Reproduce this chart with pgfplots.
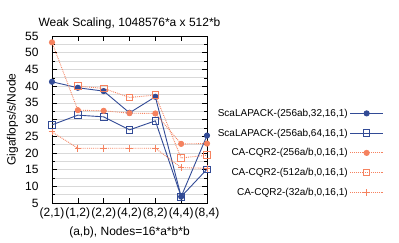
\documentclass[border=0pt]{standalone}
\usepackage{pgfplots}
\pgfplotsset{compat=1.18}
\usepackage{fontspec}
\setmainfont{Liberation Sans}
\definecolor{sblue}{RGB}{50,75,150}
\definecolor{sorange}{RGB}{245,130,95}
\begin{document}
\begin{tikzpicture}
\begin{axis}[
  scale only axis, width=155pt, height=167pt,
  xmin=0, xmax=6, ymin=5, ymax=55,
  xtick={0,...,6},
  xticklabels={(2,1),(1,2),(2,2),(4,2),(8,2),(4,4),(8,4)},
  ytick distance=5, minor y tick num=1,
  ymajorgrids, yminorgrids,
  major grid style={gray!30, line width=0.6pt},
  minor grid style={gray!30, line width=0.6pt},
  tick align=inside, major tick length=5pt, minor tick length=3pt,
  tick style={black, line width=0.5pt},
  axis line style={line width=0.8pt},
  tick label style={font=\fontsize{12}{14}\selectfont},
  yticklabel shift=10pt,
  xticklabel shift=1pt,
  /pgf/number format/assume math mode=true,
  title={Weak Scaling, 1048576*a x 512*b},
  title style={font=\fontsize{12}{14}\selectfont, yshift=-3pt},
  xlabel={(a,b), Nodes=16*a*b*b},
  ylabel={Gigaflops/s/Node},
  label style={font=\fontsize{12}{14}\selectfont},
  ylabel style={at={(axis description cs:-0.255,0.5)}, anchor=center},
  xlabel style={yshift=-1pt},
  legend plot pos=right,
  legend cell align=right,
  legend style={at={(2.16,0.30)}, anchor=east, draw=none, fill=none,
    font=\fontsize{10}{12}\selectfont, row sep=7pt},
  legend image code/.code={\draw[mark repeat=2,mark phase=2] plot coordinates {(0cm,0cm) (0.58cm,0cm) (1.16cm,0cm)};},
]
\addplot[sblue, line width=0.9pt, mark=*, mark size=2.6pt] coordinates {
(0,41.3) (1,39.5) (2,38.5) (3,32.0) (4,36.8) (5,6.9) (6,25.2)};
\addlegendentry{ScaLAPACK-(256ab,32,16,1)}
\addplot[sblue, line width=0.9pt, mark=square, mark size=3.3pt, mark options={solid}] coordinates {
(0,28.4) (1,31.3) (2,30.8) (3,26.9) (4,29.6) (5,6.9) (6,15.1)};
\addlegendentry{ScaLAPACK-(256ab,64,16,1)}
\addplot[sorange, line width=0.9pt, densely dotted, mark=*, mark size=2.6pt, mark options={solid}] coordinates {
(0,53.1) (1,32.8) (2,32.6) (3,31.9) (4,31.8) (5,22.7) (6,22.8)};
\addlegendentry{CA-CQR2-(256a/b,0,16,1)}
\addplot[sorange, line width=0.9pt, densely dotted, mark=square, mark size=3.3pt, mark options={solid}] coordinates {
(1,40.0) (2,39.3) (3,36.6) (4,37.3) (5,18.5) (6,19.3)};
\addlegendentry{CA-CQR2-(512a/b,0,16,1)}
\addplot[sorange, line width=0.9pt, densely dotted, mark=+, mark size=3.3pt, mark options={solid}] coordinates {
(0,26.3) (1,21.4) (2,21.4) (3,21.4) (4,21.4) (5,15.6) (6,15.4)};
\addlegendentry{CA-CQR2-(32a/b,0,16,1)}
\end{axis}
\pgfresetboundingbox
\path (current axis.south west) ++(-52pt,-39pt) rectangle ++(399pt,242pt);
\end{tikzpicture}
\end{document}
